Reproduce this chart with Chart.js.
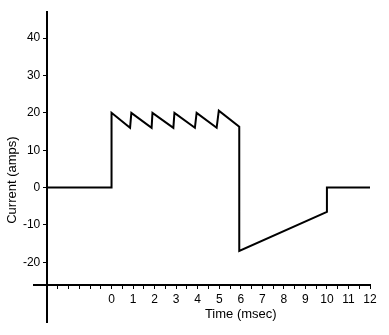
<!DOCTYPE html>
<html>
<head>
<meta charset="utf-8">
<script src="https://cdn.jsdelivr.net/npm/chart.js@4"></script>
<style>
  html, body { margin: 0; padding: 0; background: #fff; }
  #wrap { width: 389px; height: 335px; }
</style>
</head>
<body>
<div id="wrap"><canvas id="chart"></canvas></div>
<script>
/* ===================== DATA ===================== */

const timeMs  = [-3, 0, 0, 0.86, 0.92, 1.86, 1.9, 2.87, 2.92, 3.87, 3.95, 4.88, 4.98, 5.93, 5.93, 10, 10, 12];
const current = [ 0, 0, 20, 16, 20, 16, 20, 16, 20, 16, 20, 16, 20.6, 16.3, -17, -6.5, 0, 0];

const xTicks = [-2.5,-2,-1.5,-1,-0.5,0,0.5,1,1.5,2,2.5,3,3.5,4,4.5,5,5.5,6,6.5,7,7.5,8,8.5,9,9.5,10,10.5,11,11.5,12];
const yTicks = [-20, -10, 0, 10, 20, 30, 40];

const xTitle = "Time (msec)";
const yTitle = "Current (amps)";

/* ===================== HELPERS ===================== */

const FONT = "'Liberation Sans', Arial, Helvetica, sans-serif";

function setTicks(list) {
  return scale => { scale.ticks = list.map(v => ({ value: v })); };
}

// axis titles, placed from the scales themselves
const axisTitles = {
  id: "axisTitles",
  afterDraw(chart) {
    const { ctx, scales: { x, y } } = chart;
    ctx.save();
    ctx.fillStyle = "#000";
    ctx.font = "13px " + FONT;
    ctx.textAlign = "center";
    ctx.textBaseline = "middle";
    ctx.fillText(xTitle, x.getPixelForValue(6), 314);

    ctx.translate(12, y.getPixelForValue(2));
    ctx.rotate(-Math.PI / 2);
    ctx.fillText(yTitle, 0, 0);
    ctx.restore();
  }
};

/* ===================== CHART ===================== */

new Chart(document.getElementById("chart"), {
  type: "scatter",
  data: {
    datasets: [{
      data: timeMs.map((t, i) => ({ x: t, y: current[i] })),
      showLine: true,
      borderColor: "#000",
      borderWidth: 2,
      pointRadius: 0,
      tension: 0
    }]
  },
  options: {
    responsive: true,
    maintainAspectRatio: false,
    animation: false,
    layout: { padding: { left: 34, right: 19, top: 12, bottom: 13 } },
    plugins: { legend: { display: false }, tooltip: { enabled: false } },
    scales: {
      x: {
        type: "linear",
        min: -3.6,
        max: 12,
        position: { y: -26 },
        afterBuildTicks: setTicks(xTicks),
        grid: { drawOnChartArea: false, color: "#000", tickLength: 3, tickWidth: 1 },
        border: { color: "#000", width: 2 },
        ticks: {
          color: "#000",
          padding: 5,
          maxRotation: 0,
          autoSkip: false,
          font: { family: FONT, size: 12 },
          callback: v => (Number.isInteger(v) && v >= 0 ? String(v) : "")
        }
      },
      y: {
        type: "linear",
        min: -36,
        max: 47,
        position: { x: -3 },
        afterBuildTicks: setTicks(yTicks),
        grid: { drawOnChartArea: false, color: "#000", tickLength: 3, tickWidth: 1 },
        border: { color: "#000", width: 2 },
        ticks: {
          color: "#000",
          autoSkip: false,
          font: { family: FONT, size: 12 },
          // positioned axis puts labels right on the line, pad them off it
          callback: v => v + "  "
        }
      }
    }
  },
  plugins: [axisTitles]
});
</script>
</body>
</html>
